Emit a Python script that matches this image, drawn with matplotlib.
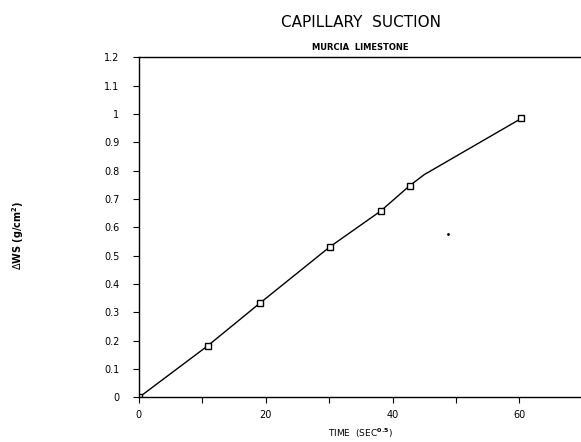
import numpy as np
import matplotlib.pyplot as plt
from matplotlib.ticker import MultipleLocator, FormatStrFormatter

# measured points (time in sec^0.5, delta W/S in g/cm2)
time_pts = [0, 10.9, 19.1, 30.1, 38.1, 42.7, 60.3]
ws_pts = [0, 0.183, 0.333, 0.531, 0.657, 0.747, 0.984]

# drawn curve passes through a small bend between the last two points
line_x = [0, 10.9, 19.1, 30.1, 38.1, 42.7, 45.0, 60.3]
line_y = [0, 0.183, 0.333, 0.531, 0.657, 0.747, 0.786, 0.984]

# stray speck on the scan
speck_x = [48.7]
speck_y = [0.577]

fig = plt.figure(figsize=(5.81, 4.42), dpi=100)
ax = fig.add_axes([0.239, 0.1007, 0.761, 0.770])

ax.plot(line_x, line_y, color='black', lw=1.0)
ax.plot(time_pts, ws_pts, ls='none', marker='s', ms=4.3, mfc='white',
        mec='black', mew=1.0)
ax.plot(speck_x, speck_y, ls='none', marker='o', ms=1.0, color='black')

ax.set_xlim(0, 69.7)
ax.set_ylim(0, 1.2)
ax.xaxis.set_major_locator(MultipleLocator(20))
ax.xaxis.set_minor_locator(MultipleLocator(10))
ax.yaxis.set_major_locator(MultipleLocator(0.1))
ax.yaxis.set_major_formatter(FormatStrFormatter('%g'))

ax.spines['right'].set_visible(False)
for s in ['left', 'bottom', 'top']:
    ax.spines[s].set_linewidth(1.0)
ax.tick_params(axis='both', which='both', direction='out', length=4,
               width=0.8, labelsize=7)
ax.tick_params(axis='x', pad=5)
ax.tick_params(axis='y', pad=10)

fig.text(0.622, 0.948, 'CAPILLARY  SUCTION', ha='center', va='center',
         fontsize=11)
ax.set_title('MURCIA  LIMESTONE', fontsize=6, fontweight='bold', pad=5)
ax.set_xlabel(r'TIME  (SEC$^{\mathbf{0.5}}$)', fontsize=6.5, labelpad=5)
fig.text(0.031, 0.468, r'$\Delta$WS (g/cm$^{\mathbf{2}}$)', rotation=90,
         ha='center', va='center', fontsize=7, fontweight='bold')

fig.savefig('out.png', dpi=100)
